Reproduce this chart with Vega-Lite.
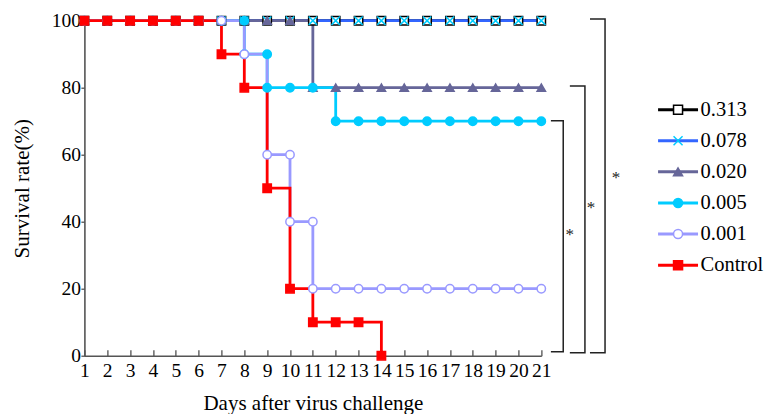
{
  "$schema": "https://vega.github.io/schema/vega-lite/v6.json",
  "width": 456.9,
  "height": 335,
  "autosize": {"type": "none"},
  "padding": {"left": 84.4, "top": 20.7, "right": 225.7, "bottom": 58.3},
  "background": "white",
  "config": {"view": {"stroke": null}, "font": "Liberation Serif", "axis": {"grid": false}},
  "datasets": {
    "surv": [
      {"g": "0.313", "d": 1, "v": 100}, {"g": "0.313", "d": 2, "v": 100}, {"g": "0.313", "d": 3, "v": 100}, {"g": "0.313", "d": 4, "v": 100}, {"g": "0.313", "d": 5, "v": 100}, {"g": "0.313", "d": 6, "v": 100}, {"g": "0.313", "d": 7, "v": 100}, {"g": "0.313", "d": 8, "v": 100}, {"g": "0.313", "d": 9, "v": 100}, {"g": "0.313", "d": 10, "v": 100}, {"g": "0.313", "d": 11, "v": 100}, {"g": "0.313", "d": 12, "v": 100}, {"g": "0.313", "d": 13, "v": 100}, {"g": "0.313", "d": 14, "v": 100}, {"g": "0.313", "d": 15, "v": 100}, {"g": "0.313", "d": 16, "v": 100}, {"g": "0.313", "d": 17, "v": 100}, {"g": "0.313", "d": 18, "v": 100}, {"g": "0.313", "d": 19, "v": 100}, {"g": "0.313", "d": 20, "v": 100}, {"g": "0.313", "d": 21, "v": 100},
      {"g": "0.078", "d": 1, "v": 100}, {"g": "0.078", "d": 2, "v": 100}, {"g": "0.078", "d": 3, "v": 100}, {"g": "0.078", "d": 4, "v": 100}, {"g": "0.078", "d": 5, "v": 100}, {"g": "0.078", "d": 6, "v": 100}, {"g": "0.078", "d": 7, "v": 100}, {"g": "0.078", "d": 8, "v": 100}, {"g": "0.078", "d": 9, "v": 100}, {"g": "0.078", "d": 10, "v": 100}, {"g": "0.078", "d": 11, "v": 100}, {"g": "0.078", "d": 12, "v": 100}, {"g": "0.078", "d": 13, "v": 100}, {"g": "0.078", "d": 14, "v": 100}, {"g": "0.078", "d": 15, "v": 100}, {"g": "0.078", "d": 16, "v": 100}, {"g": "0.078", "d": 17, "v": 100}, {"g": "0.078", "d": 18, "v": 100}, {"g": "0.078", "d": 19, "v": 100}, {"g": "0.078", "d": 20, "v": 100}, {"g": "0.078", "d": 21, "v": 100},
      {"g": "0.020", "d": 1, "v": 100}, {"g": "0.020", "d": 2, "v": 100}, {"g": "0.020", "d": 3, "v": 100}, {"g": "0.020", "d": 4, "v": 100}, {"g": "0.020", "d": 5, "v": 100}, {"g": "0.020", "d": 6, "v": 100}, {"g": "0.020", "d": 7, "v": 100}, {"g": "0.020", "d": 8, "v": 100}, {"g": "0.020", "d": 9, "v": 100}, {"g": "0.020", "d": 10, "v": 100}, {"g": "0.020", "d": 11, "v": 80}, {"g": "0.020", "d": 12, "v": 80}, {"g": "0.020", "d": 13, "v": 80}, {"g": "0.020", "d": 14, "v": 80}, {"g": "0.020", "d": 15, "v": 80}, {"g": "0.020", "d": 16, "v": 80}, {"g": "0.020", "d": 17, "v": 80}, {"g": "0.020", "d": 18, "v": 80}, {"g": "0.020", "d": 19, "v": 80}, {"g": "0.020", "d": 20, "v": 80}, {"g": "0.020", "d": 21, "v": 80},
      {"g": "0.005", "d": 1, "v": 100}, {"g": "0.005", "d": 2, "v": 100}, {"g": "0.005", "d": 3, "v": 100}, {"g": "0.005", "d": 4, "v": 100}, {"g": "0.005", "d": 5, "v": 100}, {"g": "0.005", "d": 6, "v": 100}, {"g": "0.005", "d": 7, "v": 100}, {"g": "0.005", "d": 8, "v": 100}, {"g": "0.005", "d": 8, "v": 90}, {"g": "0.005", "d": 9, "v": 90}, {"g": "0.005", "d": 9, "v": 80}, {"g": "0.005", "d": 10, "v": 80}, {"g": "0.005", "d": 11, "v": 80}, {"g": "0.005", "d": 12, "v": 70}, {"g": "0.005", "d": 13, "v": 70}, {"g": "0.005", "d": 14, "v": 70}, {"g": "0.005", "d": 15, "v": 70}, {"g": "0.005", "d": 16, "v": 70}, {"g": "0.005", "d": 17, "v": 70}, {"g": "0.005", "d": 18, "v": 70}, {"g": "0.005", "d": 19, "v": 70}, {"g": "0.005", "d": 20, "v": 70}, {"g": "0.005", "d": 21, "v": 70},
      {"g": "0.001", "d": 1, "v": 100}, {"g": "0.001", "d": 2, "v": 100}, {"g": "0.001", "d": 3, "v": 100}, {"g": "0.001", "d": 4, "v": 100}, {"g": "0.001", "d": 5, "v": 100}, {"g": "0.001", "d": 6, "v": 100}, {"g": "0.001", "d": 7, "v": 100}, {"g": "0.001", "d": 8, "v": 90}, {"g": "0.001", "d": 9, "v": 60}, {"g": "0.001", "d": 10, "v": 60}, {"g": "0.001", "d": 10, "v": 40}, {"g": "0.001", "d": 11, "v": 40}, {"g": "0.001", "d": 11, "v": 20}, {"g": "0.001", "d": 12, "v": 20}, {"g": "0.001", "d": 13, "v": 20}, {"g": "0.001", "d": 14, "v": 20}, {"g": "0.001", "d": 15, "v": 20}, {"g": "0.001", "d": 16, "v": 20}, {"g": "0.001", "d": 17, "v": 20}, {"g": "0.001", "d": 18, "v": 20}, {"g": "0.001", "d": 19, "v": 20}, {"g": "0.001", "d": 20, "v": 20}, {"g": "0.001", "d": 21, "v": 20},
      {"g": "Control", "d": 1, "v": 100}, {"g": "Control", "d": 2, "v": 100}, {"g": "Control", "d": 3, "v": 100}, {"g": "Control", "d": 4, "v": 100}, {"g": "Control", "d": 5, "v": 100}, {"g": "Control", "d": 6, "v": 100}, {"g": "Control", "d": 7, "v": 90}, {"g": "Control", "d": 8, "v": 80}, {"g": "Control", "d": 9, "v": 50}, {"g": "Control", "d": 10, "v": 20}, {"g": "Control", "d": 11, "v": 10}, {"g": "Control", "d": 12, "v": 10}, {"g": "Control", "d": 13, "v": 10}, {"g": "Control", "d": 14, "v": 0}
    ],
    "brk": [
      {"b": "outer", "o": 1, "d": 23.13, "v": 100.5}, {"b": "outer", "o": 2, "d": 23.79, "v": 100.5}, {"b": "outer", "o": 3, "d": 23.79, "v": 0.9}, {"b": "outer", "o": 4, "d": 23.13, "v": 0.9},
      {"b": "middle", "o": 1, "d": 22.25, "v": 80.5}, {"b": "middle", "o": 2, "d": 22.91, "v": 80.5}, {"b": "middle", "o": 3, "d": 22.91, "v": 0.9}, {"b": "middle", "o": 4, "d": 22.25, "v": 0.9},
      {"b": "inner", "o": 1, "d": 21.42, "v": 70.1}, {"b": "inner", "o": 2, "d": 21.96, "v": 70.1}, {"b": "inner", "o": 3, "d": 21.96, "v": 1.2}, {"b": "inner", "o": 4, "d": 21.42, "v": 1.2}
    ],
    "ast": [
      {"t": "*", "d": 24.27, "v": 52.9},
      {"t": "*", "d": 23.18, "v": 44.0},
      {"t": "*", "d": 22.25, "v": 35.9}
    ]
  },
  "encoding": {
    "x": {"field": "d", "type": "quantitative", "scale": {"domain": [1, 21], "nice": false, "zero": false},
      "axis": {"values": [1,2,3,4,5,6,7,8,9,10,11,12,13,14,15,16,17,18,19,20,21], "format": "d", "title": "Days after virus challenge",
        "labelFont": "Liberation Serif", "labelFontSize": 19.5, "labelColor": "black", "labelFlush": false, "labelOverlap": false, "labelPadding": 11.6,
        "tickSize": -6, "tickColor": "#444", "tickWidth": 1.2, "domainColor": "#555", "domainWidth": 1.6,
        "titleFont": "Liberation Serif", "titleFontSize": 21, "titleFontWeight": "normal", "titleColor": "black", "titlePadding": 12.5}},
    "y": {"field": "v", "type": "quantitative", "scale": {"domain": [0, 100], "nice": false, "zero": false},
      "axis": {"values": [0,20,40,60,80,100], "title": "Survival rate(%)",
        "labelFont": "Liberation Serif", "labelFontSize": 19.5, "labelColor": "black", "labelPadding": 0.5, "labelFlush": false,
        "tickSize": 3.5, "tickColor": "#444", "tickWidth": 1.2, "domainColor": "#555", "domainWidth": 1.6,
        "titleFont": "Liberation Serif", "titleFontSize": 21, "titleFontWeight": "normal", "titleColor": "black", "titlePadding": 19}}
  },
  "layer": [
    {
      "data": {"name": "surv"},
      "mark": {"type": "line", "interpolate": "step-after", "strokeWidth": 2.8},
      "encoding": {
        "color": {"field": "g", "type": "nominal", "sort": ["0.313", "0.078", "0.020", "0.005", "0.001", "Control"],
          "scale": {"range": ["#000000", "#3366FF", "#666699", "#00CCFF", "#9999FF", "#FF0000"]},
          "legend": {"orient": "none", "legendX": 583.4, "legendY": 78.7, "title": null, "padding": 0,
            "symbolType": "M-4.44,0L4.44,0", "symbolSize": 81, "symbolStrokeWidth": 3, "symbolFillColor": "transparent",
            "labelFont": "Liberation Serif", "labelFontSize": 20.5, "labelColor": "black", "labelOffset": 12.2, "rowPadding": 10.1, "zindex": 1}}
      }
    },
    {
      "data": {"name": "surv"},
      "mark": {"type": "point", "opacity": 1, "strokeWidth": 1.5, "size": 70},
      "encoding": {
        "shape": {"field": "g", "type": "nominal",
          "scale": {"domain": ["0.313", "0.078", "0.020", "0.005", "0.001", "Control"], "range": ["square", "M-1,-1L1,1M-1,1L1,-1", "triangle-up", "circle", "circle", "square"]},
          "legend": {"orient": "none", "legendX": 583.4, "legendY": 78.7, "title": null, "padding": 0, "symbolSize": 81, "symbolStrokeWidth": 1.5,
            "labelFont": "Liberation Serif", "labelFontSize": 20.5, "labelOpacity": 0, "labelOffset": 12.2, "rowPadding": 10.1, "zindex": 2}},
        "fill": {"field": "g", "type": "nominal",
          "scale": {"domain": ["0.313", "0.078", "0.020", "0.005", "0.001", "Control"], "range": ["#FFFFFF", "transparent", "#666699", "#00CCFF", "#FFFFFF", "#FF0000"]},
          "legend": {"orient": "none", "legendX": 583.4, "legendY": 78.7, "title": null, "padding": 0, "symbolSize": 81, "symbolStrokeWidth": 1.5,
            "labelFont": "Liberation Serif", "labelFontSize": 20.5, "labelOpacity": 0, "labelOffset": 12.2, "rowPadding": 10.1, "zindex": 2}},
        "stroke": {"field": "g", "type": "nominal",
          "scale": {"domain": ["0.313", "0.078", "0.020", "0.005", "0.001", "Control"], "range": ["#000000", "#00CCFF", "#666699", "#00CCFF", "#9999FF", "#FF0000"]},
          "legend": {"orient": "none", "legendX": 583.4, "legendY": 78.7, "title": null, "padding": 0, "symbolSize": 81, "symbolStrokeWidth": 1.5,
            "labelFont": "Liberation Serif", "labelFontSize": 20.5, "labelOpacity": 0, "labelOffset": 12.2, "rowPadding": 10.1, "zindex": 2}}
      }
    },
    {
      "data": {"name": "brk"},
      "mark": {"type": "line", "color": "#222222", "strokeWidth": 1.5},
      "encoding": {
        "detail": {"field": "b", "type": "nominal"},
        "order": {"field": "o", "type": "quantitative"}
      }
    },
    {
      "data": {"name": "ast"},
      "mark": {"type": "text", "fontSize": 17, "color": "#222222", "align": "center", "baseline": "middle", "font": "Liberation Serif"},
      "encoding": {
        "text": {"field": "t", "type": "nominal"}
      }
    }
  ]
}
